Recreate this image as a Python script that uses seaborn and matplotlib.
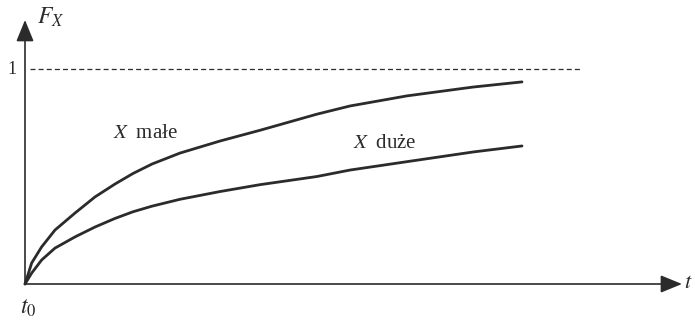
import numpy as np
import pandas as pd
import matplotlib
matplotlib.use("Agg")
import matplotlib.pyplot as plt
import seaborn as sns

# Distribution function F_X(t) for small and large X
t_values = [0.0, 0.067, 0.167, 0.30, 0.50, 0.70, 0.90, 1.08, 1.27, 1.55, 1.95, 2.35, 2.92, 3.25, 3.82, 4.48, 4.97]
f_small = [0.0, 0.098, 0.173, 0.251, 0.330, 0.405, 0.465, 0.514, 0.558, 0.609, 0.665, 0.715, 0.790, 0.828, 0.875, 0.916, 0.940]
f_large = [0.0, 0.051, 0.112, 0.167, 0.219, 0.265, 0.305, 0.336, 0.362, 0.394, 0.430, 0.462, 0.500, 0.530, 0.569, 0.614, 0.642]
series_labels = ["X małe", "X duże"]

df = pd.concat([
    pd.DataFrame({"t": t_values, "F": f_small, "seria": series_labels[0]}),
    pd.DataFrame({"t": t_values, "F": f_large, "seria": series_labels[1]}),
])

sns.set_theme(style="white")
plt.rcParams["font.family"] = ["Liberation Serif", "DejaVu Serif"]
plt.rcParams["mathtext.fontset"] = "stix"

fig = plt.figure(figsize=(6.95, 3.21), dpi=100)
ax = fig.add_axes([0, 0, 1, 1])
ax.set_xlim(-0.25, 6.70)
ax.set_ylim(-37 / 215, 284 / 215)
ax.axis("off")

ink = "#2b2b2b"
sns.lineplot(data=df, x="t", y="F", hue="seria", palette=[ink, ink],
             linewidth=2.0, legend=False, ax=ax, estimator=None, sort=False)

# axes with arrowheads
arrow = dict(arrowstyle="-|>,head_length=1.1,head_width=0.45", color=ink, lw=1.2,
             shrinkA=0, shrinkB=0)
ax.annotate("", xy=(0, 1.228), xytext=(0, 0), arrowprops=arrow)
ax.annotate("", xy=(6.57, 0), xytext=(0, 0), arrowprops=arrow)

# asymptote F = 1
ax.plot([0.05, 5.55], [1, 1], color=ink, lw=0.9, ls=(0, (4, 2.5)))

ax.text(-0.08, 1.0, "1", ha="right", va="center", fontsize=13, color=ink)
ax.text(0.12, 1.24, r"$F_X$", ha="left", va="center", fontsize=17, color=ink)
ax.text(6.635, 0.0, r"$t$", ha="center", va="center", fontsize=16, color=ink)
ax.text(0.03, -0.115, r"$t_0$", ha="center", va="center", fontsize=17, color=ink)

ax.text(0.88, 0.70, r"$X\;$" + " małe", ha="left", va="center", fontsize=15, color=ink)
ax.text(3.28, 0.655, r"$X\;$" + " duże", ha="left", va="center", fontsize=15, color=ink)

fig.savefig("out.png", dpi=100)
